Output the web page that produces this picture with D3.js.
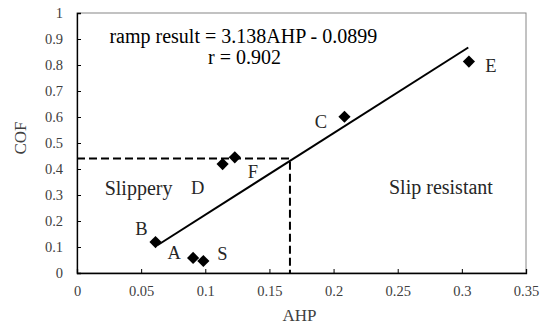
<!DOCTYPE html>
<html>
<head>
<meta charset="utf-8">
<script src="https://cdn.jsdelivr.net/npm/d3@7"></script>
</head>
<body style="margin:0; background:#fff">
<div class="chart"></div>
<script>
// Samples
const NAMES = ['B', 'A', 'S', 'D', 'F', 'C', 'E']
const AHP = [0.0612, 0.0905, 0.0985, 0.1135, 0.123, 0.2085, 0.3055]
const COF = [0.119, 0.058, 0.046, 0.419, 0.445, 0.601, 0.813]

const X_TICKS = [0, 0.05, 0.1, 0.15, 0.2, 0.25, 0.3, 0.35]
const Y_TICKS = [0, 0.1, 0.2, 0.3, 0.4, 0.5, 0.6, 0.7, 0.8, 0.9, 1]

// Regression: COF = 3.138 AHP - 0.0899, drawn over the data range
const SLOPE = 3.138
const INTERCEPT = -0.0899
const R_VALUE = 0.902
const FIT_RANGE = [0.063, 0.305]

// Threshold (dashed lines)
const COF_LIMIT = 0.44
const AHP_LIMIT = 0.166

const FONT = "'Liberation Serif', 'Times New Roman', serif"

var svgWidth = 544
var svgHeight = 326

var margin = { top: 13, right: 18, bottom: 53, left: 77 }
var width = svgWidth - margin.left - margin.right
var height = svgHeight - margin.top - margin.bottom

var svg = d3.select('.chart')
    .append('svg')
    .attr('width', svgWidth)
    .attr('height', svgHeight)

var chartGroup = svg.append('g')
    .attr('transform', `translate(${margin.left}, ${margin.top})`)

var xScale = d3.scaleLinear().domain([0, 0.35]).range([0, width])
var yScale = d3.scaleLinear().domain([0, 1]).range([height, 0])

// plot box
chartGroup.append('rect')
    .attr('width', width)
    .attr('height', height)
    .attr('fill', 'none')
    .attr('stroke', '#868686')
    .attr('stroke-width', 1)

// Axes with inward ticks
var xAxis = chartGroup.append('g')
    .attr('transform', `translate(0, ${height})`)
    .call(d3.axisBottom(xScale).tickValues(X_TICKS).tickSize(-4).tickPadding(13).tickFormat(d => d))
var yAxis = chartGroup.append('g')
    .call(d3.axisLeft(yScale).tickValues(Y_TICKS).tickSize(-4).tickPadding(14).tickFormat(d => d))

;[xAxis, yAxis].forEach(ax => {
    ax.attr('font-family', null).attr('font-size', null)
    ax.select('.domain').attr('stroke', '#000').attr('stroke-width', 1.3)
    ax.selectAll('.tick line').attr('stroke', '#000')
    ax.selectAll('.tick text')
        .style('font-family', FONT)
        .style('font-size', '14.5px')
        .attr('fill', '#404040')
})
// no tick marks at the box edges
xAxis.selectAll('.tick').filter(d => d == 0 || d == 0.35).select('line').remove()
yAxis.selectAll('.tick').filter(d => d == 0 || d == 1).select('line').remove()

function addText(parent, text, size, fill) {
    return parent.append('text')
        .style('font-family', FONT)
        .style('font-size', size + 'px')
        .attr('fill', fill)
        .text(text)
}

// axis titles
addText(svg, 'AHP', 17, '#404040')
    .attr('transform', `translate(${margin.left + width / 2 - 2}, 321)`)
    .attr('text-anchor', 'middle')

addText(svg, 'COF', 17, '#404040')
    .attr('transform', `translate(26, ${margin.top + 125}) rotate(-90)`)
    .attr('text-anchor', 'middle')

// dashed threshold lines
chartGroup.append('path')
    .attr('d', d3.line()([
        [xScale(0), yScale(COF_LIMIT)],
        [xScale(AHP_LIMIT), yScale(COF_LIMIT)],
        [xScale(AHP_LIMIT), yScale(0)]
    ]))
    .attr('fill', 'none')
    .attr('stroke', '#000')
    .attr('stroke-width', 2)
    .attr('stroke-dasharray', '8,4')

// regression line
chartGroup.append('line')
    .attr('x1', xScale(FIT_RANGE[0]))
    .attr('y1', yScale(SLOPE * FIT_RANGE[0] + INTERCEPT))
    .attr('x2', xScale(FIT_RANGE[1]))
    .attr('y2', yScale(SLOPE * FIT_RANGE[1] + INTERCEPT))
    .attr('stroke', '#000')
    .attr('stroke-width', 2)

// points
var DATA = NAMES.map((n, i) => ({ name: n, ahp: AHP[i], cof: COF[i] }))

var diamond = d3.symbol().type(d3.symbolSquare).size(74)

chartGroup.selectAll('.pt')
    .data(DATA)
    .enter()
    .append('path')
    .classed('pt', true)
    .attr('d', diamond)
    .attr('transform', d => `translate(${xScale(d.ahp)}, ${yScale(d.cof)}) rotate(45)`)
    .attr('fill', '#000')

// point letters, offset in px from the marker
var offsets = {
    B: [-14, -13], A: [-19, -5], S: [19, -7], D: [-25, 24],
    F: [18, 15], C: [-23.5, 5], E: [22, 4]
}

DATA.forEach(d => {
    addText(chartGroup, d.name, 18.5, '#262626')
        .attr('x', xScale(d.ahp) + offsets[d.name][0])
        .attr('y', yScale(d.cof) + offsets[d.name][1])
        .attr('text-anchor', 'middle')
        .attr('dominant-baseline', 'central')
})

// region notes
function note(text, x, y) {
    addText(chartGroup, text, 20, '#262626')
        .attr('x', xScale(x))
        .attr('y', yScale(y))
        .attr('text-anchor', 'middle')
        .attr('dominant-baseline', 'central')
}
note('Slippery', 0.048, 0.328)
note('Slip resistant', 0.2837, 0.332)

// equation
addText(chartGroup, `ramp result = ${SLOPE}AHP - ${Math.abs(INTERCEPT)}`, 20, '#000')
    .attr('x', xScale(0.0253))
    .attr('y', yScale(0.885))

addText(chartGroup, `r = ${R_VALUE}`, 20, '#000')
    .attr('x', xScale(0.1022))
    .attr('y', yScale(0.805))
</script>
</body>
</html>
